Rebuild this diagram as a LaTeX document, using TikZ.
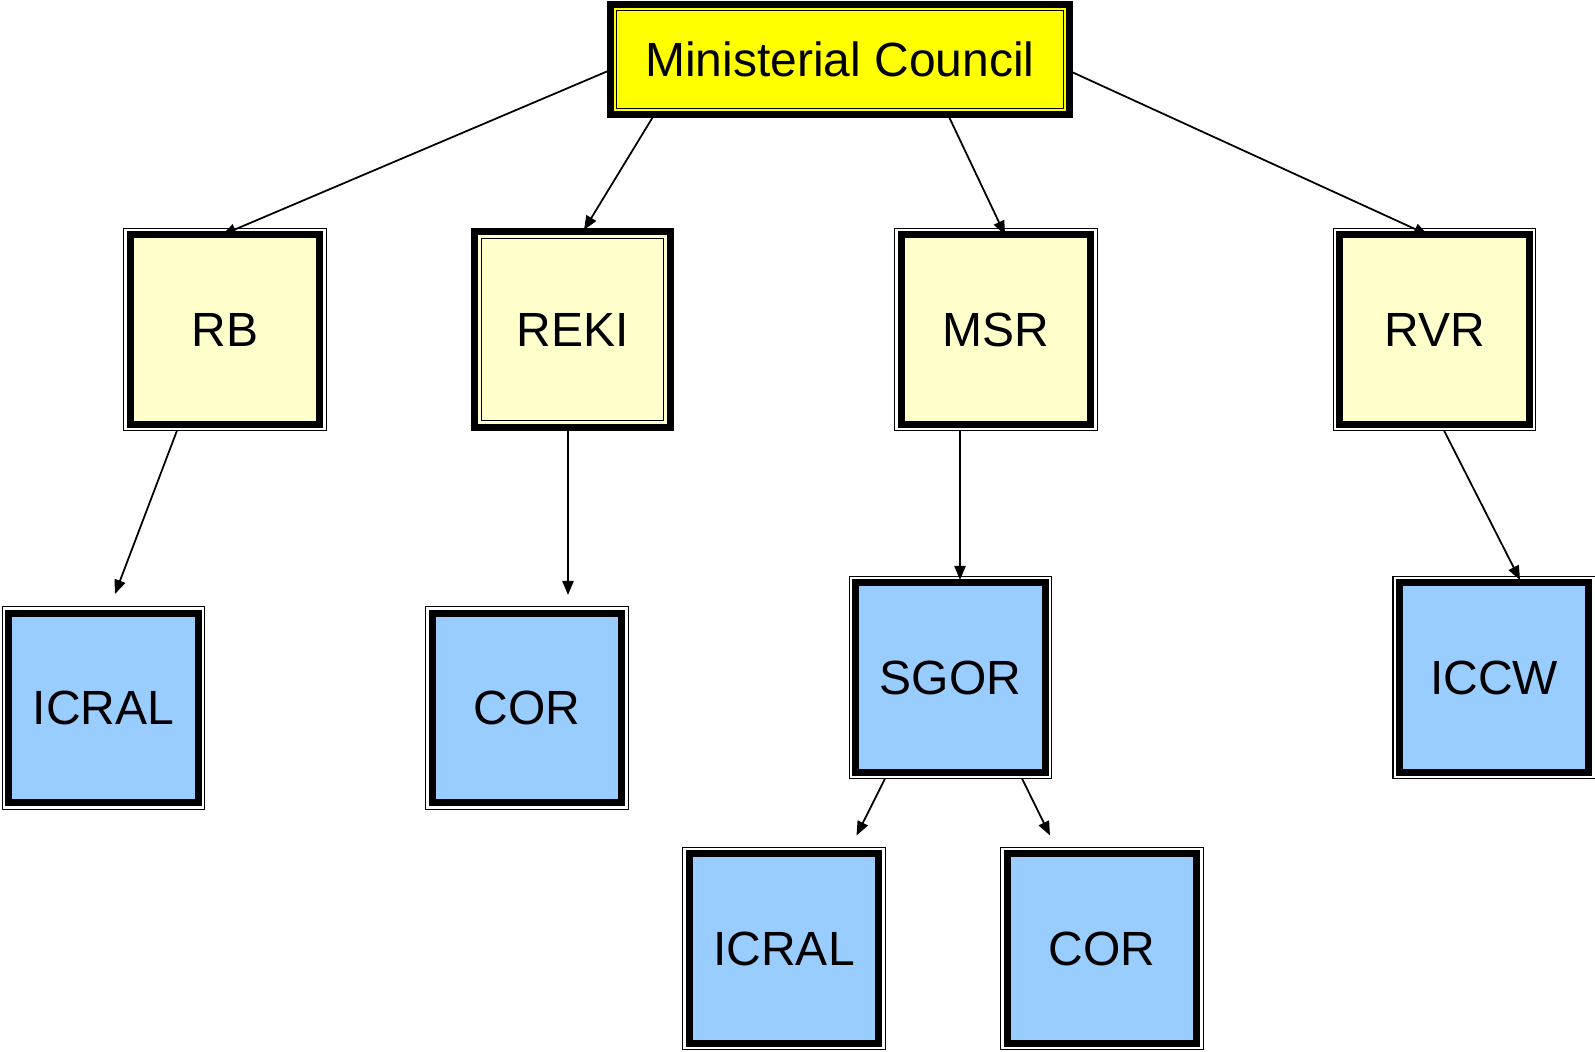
\documentclass[tikz,border=0pt]{standalone}
\usepackage{fontspec}
\setmainfont{Liberation Sans}
\usetikzlibrary{arrows.meta}
\definecolor{cream}{HTML}{FFFFCC}
\definecolor{skyblue}{HTML}{99CCFF}
\definecolor{gold}{HTML}{FFFF00}
\tikzset{
  box/.style={draw, line width=0.07cm, outer sep=0pt, inner sep=0pt, minimum size=1.89cm, font=\fontsize{13.65}{16}\selectfont},
  upper/.style={box, fill=cream},
  lower/.style={box, fill=skyblue},
  link/.style={line width=0.5pt, -{Triangle[length=4pt,width=3.2pt]}},
  frame/.style={line width=0.3pt},
}
\begin{document}
\begin{tikzpicture}[x=0.01cm, y=-0.01cm]
    \useasboundingbox (0,0) rectangle (1595,1051);

    \node[box, fill=gold, minimum width=4.59cm, minimum height=1.10cm] (mc) at (840,59.5) {Ministerial Council};

    \node[upper] (rb) at (225,329.5) {RB};
    \node[upper, minimum size=1.95cm] (reki) at (572.5,329.5) {REKI};
    \node[upper] (msr) at (996,329.5) {MSR};
    \node[upper] (rvr) at (1434.5,329.5) {RVR};

    \node[lower] (icral) at (103.5,708) {ICRAL};
    \node[lower] (cor) at (527,708) {COR};
    \node[lower] (sgor) at (950.5,677.5) {SGOR};
    \node[lower] (iccw) at (1494,677.5) {ICCW};
    \node[lower] (icraltwo) at (784,948.5) {ICRAL};
    \node[lower] (cortwo) at (1102,948.5) {COR};

%   thin line outside the thick border
    \foreach \n in {rb,msr,rvr,icral,cor,sgor,iccw,icraltwo,cortwo}
        \draw[frame] ([shift={(-6.5,-6.5)}]\n.north west) rectangle ([shift={(6.5,6.5)}]\n.south east);
%   thin line inside the thick border
    \foreach \n in {mc,reki}
        \draw[frame] ([shift={(6.5,6.5)}]\n.north west) rectangle ([shift={(-6.5,-6.5)}]\n.south east);

    \coordinate (icralin) at ([shift={(11.5,-19.5)}]icral.north);
    \coordinate (corin) at ([shift={(41,-18.5)}]cor.north);
    \coordinate (icraltwoin) at ([shift={(72.5,-18.5)}]icraltwo.north);
    \coordinate (cortwoin) at ([shift={(-52,-18.5)}]cortwo.north);

    \draw[link] ([shift={(0,10.5)}]mc.west) -- ([shift={(-3,0)}]rb.north);
    \draw[link] ([shift={(44,0)}]mc.south west) -- ([shift={(11.5,-2)}]reki.north);
    \draw[link] ([shift={(337.5,0)}]mc.south west) -- ([shift={(9,0)}]msr.north);
    \draw[link] ([shift={(0,11.5)}]mc.east) -- ([shift={(-6.5,0)}]rvr.north);

    \draw[link] ([shift={(-48,6.5)}]rb.south) -- (icralin);
    \draw[link] ([shift={(-4.5,3)}]reki.south) -- (corin);
    \draw[link] ([shift={(-36,6.5)}]msr.south) -- ([shift={(9.5,-3)}]sgor.north);
    \draw[link] ([shift={(9.5,6.5)}]rvr.south) -- ([shift={(26,-3)}]iccw.north);

    \draw[link] ([shift={(-65.5,6.5)}]sgor.south) -- (icraltwoin);
    \draw[link] ([shift={(71.5,6.5)}]sgor.south) -- (cortwoin);

\end{tikzpicture}
\end{document}
